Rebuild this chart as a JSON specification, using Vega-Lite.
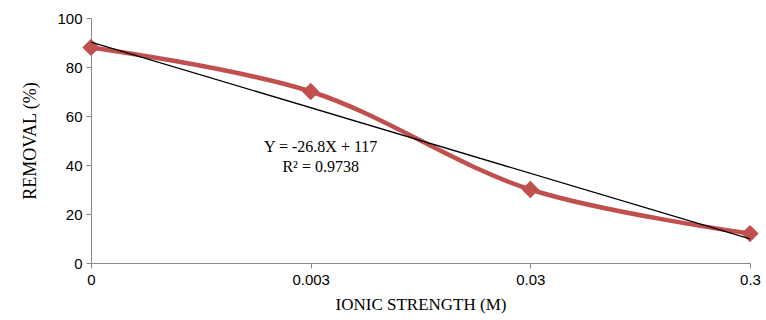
{
  "$schema": "https://vega.github.io/schema/vega-lite/v6.json",
  "width": 659,
  "height": 245,
  "autosize": {"type": "none"},
  "padding": {"left": 91, "top": 18, "right": 16, "bottom": 57},
  "background": "white",
  "config": {"view": {"stroke": null}},
  "datasets": {
    "main": [
      {"ionic": "0", "removal": 88},
      {"ionic": "0.003", "removal": 70},
      {"ionic": "0.03", "removal": 30},
      {"ionic": "0.3", "removal": 12}
    ],
    "trend": [
      {"ionic": "0", "removal": 90.2},
      {"ionic": "0.3", "removal": 9.8}
    ],
    "label": [
      {"ionic": "0.003", "removal": 47.3, "text": "Y = -26.8X + 117"},
      {"ionic": "0.003", "removal": 39.3, "text": "R² = 0.9738"}
    ]
  },
  "encoding": {
    "x": {
      "field": "ionic", "type": "ordinal", "sort": ["0", "0.003", "0.03", "0.3"],
      "scale": {"type": "point", "padding": 0},
      "axis": {
        "title": "IONIC STRENGTH (M)", "labelAngle": 0,
        "domainColor": "#888888", "tickColor": "#888888", "tickSize": 5,
        "labelFont": "Liberation Sans", "labelFontSize": 15, "labelColor": "black",
        "labelPadding": 4,
        "titleFont": "Liberation Serif", "titleFontSize": 17, "titleFontWeight": "normal",
        "titleColor": "black", "titlePadding": 9
      }
    },
    "y": {
      "field": "removal", "type": "quantitative",
      "scale": {"domain": [0, 100], "nice": false},
      "axis": {
        "title": "REMOVAL (%)", "values": [0, 20, 40, 60, 80, 100], "grid": false,
        "domainColor": "#888888", "tickColor": "#888888", "tickSize": 5,
        "labelFont": "Liberation Sans", "labelFontSize": 15, "labelColor": "black",
        "labelPadding": 4,
        "titleFont": "Liberation Serif", "titleFontSize": 18, "titleFontWeight": "normal",
        "titleColor": "black", "titlePadding": 17
      }
    }
  },
  "layer": [
    {
      "data": {"name": "main"},
      "mark": {"type": "line", "interpolate": "catmull-rom", "color": "#C0504D", "strokeWidth": 4.5}
    },
    {
      "data": {"name": "main"},
      "mark": {"type": "point", "shape": "diamond", "filled": true, "color": "#C0504D", "size": 300, "opacity": 1}
    },
    {
      "data": {"name": "trend"},
      "mark": {"type": "line", "color": "black", "strokeWidth": 1.3}
    },
    {
      "data": {"name": "label"},
      "mark": {"type": "text", "font": "Liberation Serif", "fontSize": 16, "color": "black", "dx": 10, "baseline": "middle"},
      "encoding": {"text": {"field": "text"}}
    }
  ]
}
